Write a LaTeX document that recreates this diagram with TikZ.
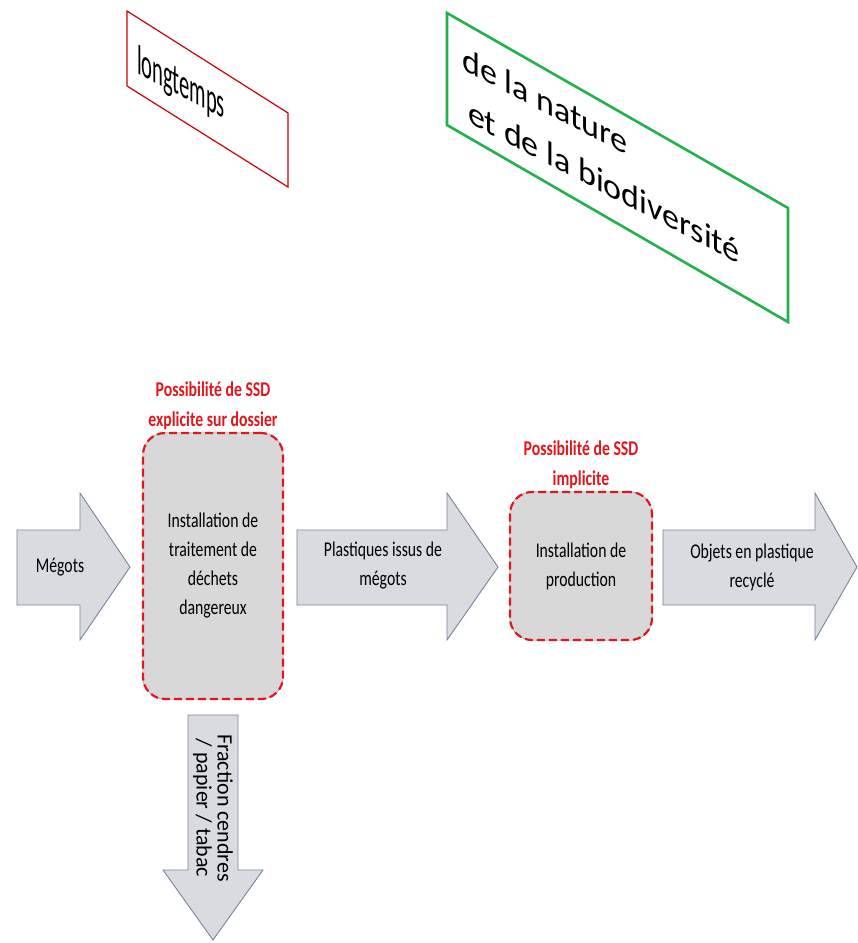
\documentclass[tikz,border=0pt]{standalone}
\usepackage{fontspec}
\setmainfont{Carlito}
\newfontfamily\narrowfont[FakeStretch=0.75]{Carlito}
\newfontfamily\squeezefont[FakeStretch=0.49]{Carlito}
\usetikzlibrary{positioning}
\usepackage{xcolor}
\definecolor{flowgray}{RGB}{217,219,224}
\definecolor{flowedge}{RGB}{118,132,156}
\definecolor{boxgray}{RGB}{216,216,216}
\definecolor{ssdred}{RGB}{226,22,28}
\definecolor{framered}{RGB}{204,0,0}
\definecolor{framegreen}{RGB}{34,177,76}

\tikzset{
  flow/.style={fill=flowgray, draw=flowedge, line width=0.9pt, line join=miter},
  flowtext/.style={font=\narrowfont\fontsize{21}{29}\selectfont, align=center, inner sep=0pt},
  procbox/.style={fill=boxgray, draw=ssdred, line width=2.2pt, dash pattern=on 8pt off 4pt,
    rounded corners=22pt, preaction={draw=black!55, line width=0.8pt, solid},
    font=\narrowfont\fontsize{21}{29}\selectfont, align=center},
  ssdlabel/.style={text=ssdred, font=\narrowfont\bfseries\fontsize{21}{30}\selectfont, align=center, inner sep=1pt}
}

\begin{document}
\begin{tikzpicture}[x=1pt, y=-1pt]
    \useasboundingbox (0,0) rectangle (858,943);

    % slanted frames on top
    \draw[framered, line width=1.2pt] (127,11) -- (288,113) -- (288,187) -- (127,86) -- cycle;
    \node[font=\squeezefont\fontsize{42}{42}\selectfont, cm={1,-0.52,0,1,(0,0)}, transform shape, inner sep=0pt] (longtemps) at (181,85) {longtemps};
    \draw[framegreen, line width=2.6pt] (447,13) -- (788,208) -- (788,322) -- (447,125) -- cycle;
    \node[font=\fontsize{34}{50}\selectfont, align=left, cm={1,-0.52,0,1,(0,0)}, transform shape, inner sep=0pt] (nature) at (601,155) {de la nature\\\hspace{6pt}et de la biodiversité};

    % process boxes
    \node[procbox, minimum width=140pt, minimum height=266pt] (treatment) at (213,566) {Installation de\\traitement de\\déchets\\dangereux};
    \node[procbox, minimum width=142pt, minimum height=148pt] (production) at (581,566) {Installation de\\production};
    \node[ssdlabel, above=1pt of treatment] (ssdexplicit) {Possibilité de SSD\\explicite sur dossier};
    \node[ssdlabel, above=1pt of production] (ssdimplicit) {Possibilité de SSD\\implicite};

    % flows
    \draw[flow] (17,530) -- (80,530) -- (80,493) -- (130,567) -- (80,640) -- (80,605) -- (17,605) -- cycle;
    \draw[flow] (297,530) -- (447,530) -- (447,493) -- (498,567) -- (447,640) -- (447,605) -- (297,605) -- cycle;
    \draw[flow] (663,530) -- (815,530) -- (815,493) -- (857,567) -- (815,640) -- (815,605) -- (663,605) -- cycle;
    \draw[flow] (188,715) -- (238,715) -- (238,870) -- (263,870) -- (213,940) -- (163,870) -- (188,870) -- cycle;

    \node[flowtext] (megots) at (60,567) {Mégots};
    \node[flowtext] (plastiques) at (383,566) {Plastiques issus de\\mégots};
    \node[flowtext] (objets) at (752,567) {Objets en plastique\\recyclé};
    \node[font=\fontsize{22}{21}\selectfont, rotate=-90, align=center, inner sep=0pt] (fraction) at (213,808) {Fraction cendres\\/ papier / tabac};
\end{tikzpicture}
\end{document}
